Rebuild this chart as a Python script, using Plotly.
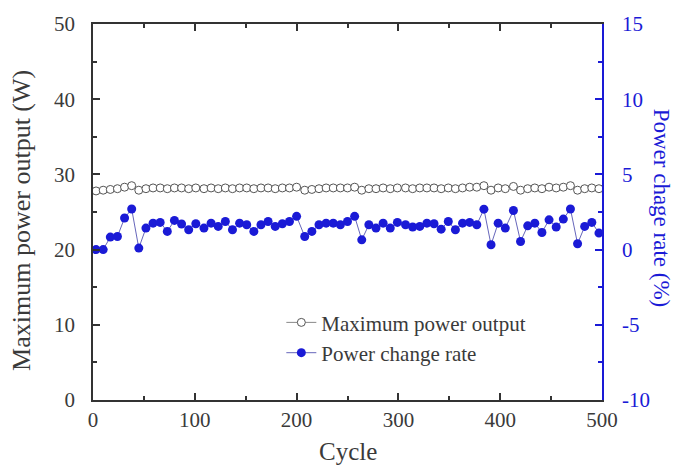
import plotly.graph_objects as go

cycles = [3, 10, 17, 24, 31, 38, 45, 52, 59, 66, 73, 80, 87, 94, 101, 109, 116, 123, 130,
          137, 144, 151, 158, 165, 172, 179, 186, 193, 200, 208, 215, 222, 229, 236, 243, 250,
          257, 264, 271, 278, 285, 292, 299, 307, 314, 321, 328, 335, 342, 349, 356, 363, 370,
          377, 384, 391, 398, 405, 413, 420, 427, 434, 441, 448, 455, 462, 469, 476, 483, 490, 497]

max_power = [27.8, 27.9, 28.0, 28.1, 28.3, 28.5, 27.9, 28.1, 28.2, 28.2, 28.1, 28.2, 28.2, 28.1,
             28.2, 28.1, 28.2, 28.1, 28.2,
             28.1, 28.2, 28.2, 28.1, 28.2, 28.2, 28.1, 28.2, 28.2, 28.3, 27.9, 28.0, 28.1, 28.2,
             28.2, 28.2, 28.2, 28.3,
             27.9, 28.1, 28.1, 28.2, 28.1, 28.2, 28.2, 28.1, 28.2, 28.2, 28.2, 28.1, 28.2, 28.1,
             28.2, 28.3, 28.3, 28.5,
             27.9, 28.2, 28.1, 28.4, 27.9, 28.1, 28.2, 28.1, 28.3, 28.2, 28.3, 28.5, 27.9, 28.1,
             28.2, 28.1]

change_rate = [0.0, 0.0, 0.83, 0.87, 2.1, 2.7, 0.1, 1.43, 1.76, 1.81, 1.21, 1.94, 1.7, 1.32,
               1.72, 1.43, 1.76, 1.54, 1.87,
               1.32, 1.76, 1.65, 1.21, 1.65, 1.87, 1.54, 1.72, 1.87, 2.21, 0.87, 1.21, 1.65, 1.76,
               1.76, 1.65, 1.87, 2.21,
               0.65, 1.65, 1.43, 1.76, 1.43, 1.81, 1.65, 1.5, 1.54, 1.76, 1.72, 1.36, 1.87, 1.32,
               1.76, 1.81, 1.65, 2.69,
               0.32, 1.76, 1.43, 2.6, 0.54, 1.58, 1.76, 1.14, 1.98, 1.5, 2.03, 2.7, 0.39, 1.54,
               1.81, 1.1]

x_ticks = [0, 100, 200, 300, 400, 500]
y_ticks = [0, 10, 20, 30, 40, 50]
y2_ticks = [-10, -5, 0, 5, 10, 15]
y2_labels = ["-10", "-5", "0", "5", "10", "15"]

FONT = "Liberation Serif"
BLUE = "#1a1ad6"
TXT = "#3a3a3a"

fig = go.Figure()
fig.add_trace(go.Scatter(
    x=cycles, y=max_power, name="Maximum power output", mode="lines+markers",
    line=dict(color="#888888", width=1),
    marker=dict(symbol="circle", size=8, color="white", line=dict(color="#555555", width=1)),
    yaxis="y"))
fig.add_trace(go.Scatter(
    x=cycles, y=change_rate, name="Power change rate", mode="lines+markers",
    line=dict(color="#6666bb", width=1),
    marker=dict(symbol="circle", size=9, color=BLUE, line=dict(color=BLUE, width=0)),
    yaxis="y2"))

fig.update_layout(
    width=676, height=466,
    margin=dict(l=93, r=74, t=24, b=66),
    paper_bgcolor="white", plot_bgcolor="white",
    font=dict(family=FONT, size=21, color=TXT),
    showlegend=True,
    legend=dict(x=0.37, y=0.26, xanchor="left", yanchor="top",
                bgcolor="rgba(0,0,0,0)", font=dict(family=FONT, size=21, color=TXT),
                itemwidth=30, tracegroupgap=0),
    xaxis=dict(range=[0, 500], tickvals=x_ticks, automargin=False,
               ticks="inside", ticklen=7, tickwidth=1.5, tickcolor="#333",
               minor=dict(dtick=50, ticks="inside", ticklen=4, tickcolor="#333"),
               showline=True, linecolor="#333", linewidth=1.5, mirror="ticks",
               showgrid=False, zeroline=False, ticklabelstandoff=0,
               tickfont=dict(size=21, color=TXT)),
    yaxis=dict(range=[0, 50], tickvals=y_ticks, automargin=False,
               ticks="inside", ticklen=7, tickwidth=1.5, tickcolor="#333",
               minor=dict(dtick=5, ticks="inside", ticklen=4, tickcolor="#333"),
               showline=True, linecolor="#333", linewidth=1.5,
               showgrid=False, zeroline=False, ticklabelstandoff=12,
               tickfont=dict(size=21, color=TXT)),
    yaxis2=dict(range=[-10, 15], tickvals=y2_ticks, ticktext=y2_labels,
                overlaying="y", side="right", automargin=False,
                ticks="inside", ticklen=7, tickwidth=1.5, tickcolor=BLUE,
                minor=dict(dtick=2.5, ticks="inside", ticklen=4, tickcolor=BLUE),
                showline=True, linecolor=BLUE, linewidth=1.5,
                showgrid=False, zeroline=False, ticklabelstandoff=14,
                tickfont=dict(size=21, color=BLUE)),
    annotations=[
        dict(text="Power chage rate (%)", xref="paper", yref="paper",
             x=1.117, y=0.51, textangle=90, showarrow=False,
             xanchor="center", yanchor="middle",
             font=dict(family=FONT, size=23, color=BLUE)),
        dict(text="Maximum power output (W)", xref="paper", yref="paper",
             x=-0.141, y=0.477, textangle=-90, showarrow=False,
             xanchor="center", yanchor="middle",
             font=dict(family=FONT, size=26, color=TXT)),
        dict(text="Cycle", xref="paper", yref="paper",
             x=0.5, y=-0.138, showarrow=False,
             xanchor="center", yanchor="middle",
             font=dict(family=FONT, size=25, color=TXT)),
    ],
)

fig.write_html("out.html", config={"displayModeBar": False},
               post_script="document.body.style.margin='0px';")
